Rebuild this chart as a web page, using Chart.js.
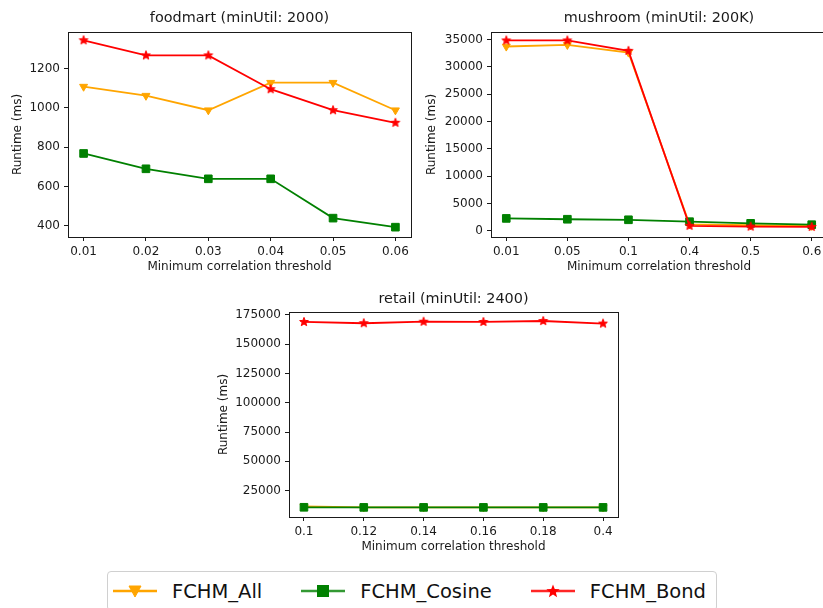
<!DOCTYPE html>
<html>
<head>
<meta charset="utf-8">
<script src="https://cdn.jsdelivr.net/npm/chart.js@4/dist/chart.umd.min.js"></script>
<style>
html, body { margin:0; padding:0; width:823px; height:608px; overflow:hidden; background:#fff; }
canvas.plot { position:absolute; }
#legend {
    position:absolute; left:107px; top:571px; height:40px; box-sizing:border-box;
    border:1px solid #d0d0d0; border-radius:4px; background:#fff;
    display:flex; align-items:center; padding:0 10px 0 5px;
    font-family:"DejaVu Sans", sans-serif; font-size:19.5px; color:#111;
}
#legend svg { width:44px; height:20px; margin-right:15px; flex:none; }
#legend span { margin-right:39px; white-space:nowrap; }
#legend span:last-child { margin-right:0; }
</style>
</head>
<body>

<canvas id="foodmart" class="plot" width="420" height="280" style="left:0px;top:0px"></canvas>
<canvas id="mushroom" class="plot" width="430" height="280" style="left:410px;top:0px"></canvas>
<canvas id="retail" class="plot" width="420" height="280" style="left:210px;top:280px"></canvas>

<div id="legend">
    <svg viewBox="0 0 44 20"><line x1="0" y1="10" x2="44" y2="10" stroke="#FFA500" stroke-width="2.6"/><polygon points="16,5 28,5 22,16" fill="#FFA500" stroke="#FFA500" stroke-width="1"/></svg>
    <span>FCHM_All</span>
    <svg viewBox="0 0 44 20"><line x1="0" y1="10" x2="44" y2="10" stroke="#008000" stroke-opacity="0.8" stroke-width="2.6"/><rect x="16" y="4" width="12" height="12" fill="#008000"/></svg>
    <span>FCHM_Cosine</span>
    <svg viewBox="0 0 44 20"><line x1="0" y1="10" x2="44" y2="10" stroke="#FF0000" stroke-opacity="0.85" stroke-width="2.6"/><polygon id="legendStar" fill="#FF0000"/></svg>
    <span>FCHM_Bond</span>
</div>

<script>
/* =====================================================
   DATA
===================================================== */

const seriesNames = ["FCHM_All", "FCHM_Cosine", "FCHM_Bond"];

// foodmart (minUtil: 2000)
const foodmartLabels = ["0.01", "0.02", "0.03", "0.04", "0.05", "0.06"];
const foodmartAll    = [1108, 1062, 988, 1128, 1128, 988];
const foodmartCosine = [768, 690, 639, 639, 439, 393];
const foodmartBond   = [1344, 1267, 1267, 1095, 988, 924];
const foodmartTicks  = [400, 600, 800, 1000, 1200];

// mushroom (minUtil: 200K)
const mushroomLabels = ["0.01", "0.05", "0.1", "0.4", "0.5", "0.6"];
const mushroomAll    = [33700, 34000, 32600, 1150, 1000, 900];
const mushroomCosine = [2250, 2100, 2000, 1650, 1350, 1100];
const mushroomBond   = [34800, 34800, 32900, 900, 750, 700];
const mushroomTicks  = [0, 5000, 10000, 15000, 20000, 25000, 30000, 35000];

// retail (minUtil: 2400)
const retailLabels = ["0.1", "0.12", "0.14", "0.16", "0.18", "0.4"];
const retailAll    = [11500, 10800, 10800, 10800, 10800, 10800];
const retailCosine = [10800, 10700, 10700, 10700, 10700, 10700];
const retailBond   = [169000, 167900, 169200, 169000, 169800, 167600];
const retailTicks  = [25000, 50000, 75000, 100000, 125000, 150000, 175000];


/* =====================================================
   STYLE
===================================================== */

const FONT = "'DejaVu Sans', sans-serif";
const INK = "#1a1a1a";
const colors = { all: "#FFA500", cosine: "#008000", bond: "#FF0000" };

// filled 5-point star used as point style (matplotlib "*")
function makeStar(color, r) {
    const c = document.createElement("canvas");
    const s = Math.ceil(r * 2 + 2);
    c.width = c.height = s;
    const ctx = c.getContext("2d");
    ctx.beginPath();
    for (let k = 0; k < 10; k++) {
        const rad = k % 2 ? r * 0.42 : r;
        const ang = -Math.PI / 2 + k * Math.PI / 5;
        ctx.lineTo(s / 2 + rad * Math.cos(ang), s / 2 + rad * Math.sin(ang));
    }
    ctx.closePath();
    ctx.fillStyle = color;
    ctx.strokeStyle = color;
    ctx.lineWidth = 1;
    ctx.fill();
    ctx.stroke();
    return c;
}

const starImg = makeStar(colors.bond, 4.6);

// legend star
(function () {
    const pts = [];
    for (let k = 0; k < 10; k++) {
        const rad = k % 2 ? 3 : 7;
        const ang = -Math.PI / 2 + k * Math.PI / 5;
        pts.push((22 + rad * Math.cos(ang)).toFixed(2) + "," + (10.5 + rad * Math.sin(ang)).toFixed(2));
    }
    document.getElementById("legendStar").setAttribute("points", pts.join(" "));
})();

// plot frame (all four spines) + title centred over the plot area
const framePlugin = {
    id: "frame",
    afterDraw(chart, args, opts) {
        const { ctx, chartArea: a } = chart;
        ctx.save();
        ctx.strokeStyle = INK;
        ctx.lineWidth = 1;
        ctx.strokeRect(Math.round(a.left) + 0.5, Math.round(a.top) + 0.5,
            Math.round(a.right - a.left), Math.round(a.bottom - a.top));
        ctx.fillStyle = INK;
        ctx.font = "14.4px " + FONT;
        ctx.textAlign = "center";
        ctx.textBaseline = "middle";
        ctx.fillText(opts.text, (a.left + a.right) / 2, a.top - opts.gap);
        ctx.restore();
    }
};


/* =====================================================
   CHART BUILDER
===================================================== */

function toPoints(values) {
    return values.map((v, i) => ({ x: i, y: v }));
}

function makeChart(id, cfg) {

    const datasets = [
        {
            label: seriesNames[0], data: toPoints(cfg.all), order: 2,
            borderColor: colors.all, backgroundColor: colors.all,
            pointStyle: "triangle", rotation: 180, pointRadius: 4.6,
            pointBorderWidth: 1
        },
        {
            label: seriesNames[1], data: toPoints(cfg.cosine), order: 1,
            borderColor: colors.cosine, backgroundColor: colors.cosine,
            pointStyle: "rect", pointRadius: 5.4, pointBorderWidth: 1
        },
        {
            label: seriesNames[2], data: toPoints(cfg.bond), order: 0,
            borderColor: colors.bond, backgroundColor: colors.bond,
            pointStyle: starImg, pointRadius: 5
        }
    ];
    datasets.forEach(d => { d.borderWidth = 1.8; d.tension = 0; d.pointHoverRadius = d.pointRadius; });

    return new Chart(document.getElementById(id), {
        type: "line",
        data: { datasets },
        plugins: [framePlugin],
        options: {
            responsive: false,
            animation: false,
            layout: { padding: { left: 0, right: cfg.rightPad, top: cfg.top, bottom: 0 } },
            plugins: {
                legend: { display: false },
                tooltip: { enabled: false },
                title: { display: false },
                frame: { text: cfg.title, gap: cfg.titleGap }
            },
            scales: {
                x: {
                    type: "linear", min: -0.25, max: cfg.labels.length - 0.75,
                    afterBuildTicks: s => { s.ticks = cfg.labels.map((_, i) => ({ value: i })); },
                    afterFit: s => { s.height = 43; },
                    grid: { drawOnChartArea: false, drawTicks: true, tickLength: 4, tickColor: INK },
                    border: { display: false },
                    ticks: {
                        autoSkip: false, maxRotation: 0, padding: 4, color: INK,
                        font: { family: FONT, size: 12 },
                        callback: v => cfg.labels[Math.round(v)]
                    },
                    title: {
                        display: true, text: "Minimum correlation threshold", color: INK,
                        font: { family: FONT, size: 12 }, padding: { top: 0, bottom: 5.5 }
                    }
                },
                y: {
                    min: cfg.yMin, max: cfg.yMax,
                    afterBuildTicks: s => { s.ticks = cfg.yTicks.map(v => ({ value: v })); },
                    afterFit: s => { s.width = cfg.yWidth; },
                    grid: { drawOnChartArea: false, drawTicks: true, tickLength: 4, tickColor: INK },
                    border: { display: false },
                    ticks: {
                        padding: 4, color: INK,
                        font: { family: FONT, size: 12 },
                        callback: v => String(v)
                    },
                    title: {
                        display: true, text: "Runtime (ms)", color: INK,
                        font: { family: FONT, size: 12 }, padding: { top: cfg.yTitlePad, bottom: 0 }
                    }
                }
            }
        }
    });
}


/* =====================================================
   DRAW
===================================================== */

makeChart("foodmart", {
    title: "foodmart (minUtil: 2000)",
    labels: foodmartLabels, all: foodmartAll, cosine: foodmartCosine, bond: foodmartBond,
    yTicks: foodmartTicks, yMin: 343, yMax: 1386,
    yWidth: 68, rightPad: 9, top: 32, titleGap: 14, yTitlePad: 10.8
});

makeChart("mushroom", {
    title: "mushroom (minUtil: 200K)",
    labels: mushroomLabels, all: mushroomAll, cosine: mushroomCosine, bond: mushroomBond,
    yTicks: mushroomTicks, yMin: -1150, yMax: 36350,
    yWidth: 81, rightPad: 13, top: 32, titleGap: 14, yTitlePad: 15.1
});

makeChart("retail", {
    title: "retail (minUtil: 2400)",
    labels: retailLabels, all: retailAll, cosine: retailCosine, bond: retailBond,
    yTicks: retailTicks, yMin: 2500, yMax: 177500,
    yWidth: 79, rightPad: 12, top: 32, titleGap: 12.5, yTitlePad: 7.1
});
</script>
</body>
</html>
